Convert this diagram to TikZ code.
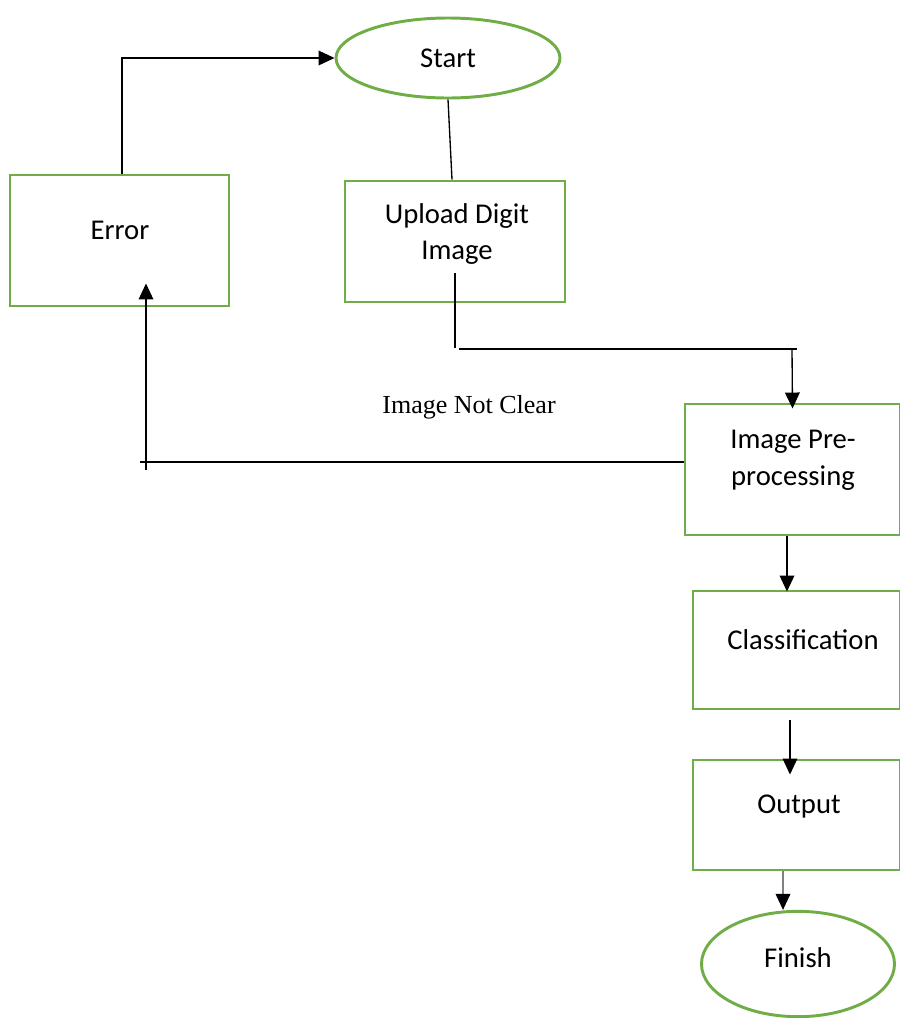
\documentclass[tikz,border=0pt]{standalone}
\usepackage{fontspec}
\setmainfont{Carlito}
\newfontfamily\timesf{Liberation Serif}
\usetikzlibrary{arrows.meta,calc,shapes.geometric}
\definecolor{boxgreen}{RGB}{112,173,71}
\begin{document}
\begin{tikzpicture}[x=0.75pt,y=-0.75pt,
  box/.style={draw=boxgreen,line width=2.2pt,rectangle,inner sep=0pt},
  oval/.style={draw=boxgreen,line width=2.2pt,ellipse,inner sep=0pt},
  txt/.style={font=\fontsize{21.5}{27.5}\selectfont,align=center,inner sep=0pt},
  note/.style={font=\timesf\fontsize{19.5}{23}\selectfont,inner sep=0pt},
  conn/.style={line width=1pt,-{Triangle[length=12pt,width=11pt]}},
  plainline/.style={line width=1pt}]
\useasboundingbox (0,0) rectangle (900,1018);

% shapes
\node[oval,minimum width=168pt,minimum height=60pt] (start) at (448,58) {};
\node[box,minimum width=164.25pt,minimum height=98.25pt] (error) at (119.5,240.5) {};
\node[box,minimum width=165pt,minimum height=90.75pt] (upload) at (455,241.5) {};
\node[box,minimum width=161.25pt,minimum height=98.25pt] (pre) at (792.5,469.5) {};
\node[box,minimum width=155.25pt,minimum height=88.5pt] (class) at (796.5,650) {};
\node[box,minimum width=155.25pt,minimum height=82.5pt] (output) at (796.5,815) {};
\node[oval,minimum width=144.75pt,minimum height=79pt] (finish) at (798,964) {};

% texts
\node[txt] (startT) at (448,58) {Start};
\node[txt] (errorT) at (120,230) {Error};
\node[txt] (uploadT) at (457,234) {Upload Digit\\Image};
\node[txt] (preT) at (793,460) {Image Pre-\\processing};
\node[txt] (classT) at (803,640) {Classification};
\node[txt] (outputT) at (799,806) {Output};
\node[txt] (finishT) at (798,958) {Finish};
\node[note] (noteT) at (469,407) {Image Not Clear};

% connectors
\draw[plainline] (start.south) -- ($(upload.north)+(-3,0)$);
\coordinate (u1) at (455,348);
\draw[plainline] ($(upload.south)+(0,-30)$) -- (u1);
\coordinate (h1) at (459,349);
\coordinate (h2) at (797,349);
\draw[plainline] (h1) -- (h2);
\coordinate (d1) at (792,349);
\draw[conn] (d1) -- ($(pre.north)+(0,6)$);

\coordinate (e1) at (140,462);
\draw[plainline] ($(pre.west)+(0,-7.5)$) -- (e1);
\coordinate (e2) at (146,470);
\draw[conn] (e2) -- ($(error.south)+(26.5,-24)$);

\draw[conn] ($(error.north)+(2.5,0)$) |- (start.west);

\draw[conn] ($(pre.south)+(-5.5,0)$) coordinate (p1) -- ($(p1 |- class.north)+(0,2)$);
\draw[conn] ($(class.south)+(-6.5,10)$) -- ($(output.north)+(-6.5,16)$);
\draw[line width=1pt,draw=gray,-{Triangle[length=12pt,width=11pt,black]}] ($(output.south)+(-13.5,0)$) coordinate (o1) -- (o1 |- finish.north);
\end{tikzpicture}
\end{document}
